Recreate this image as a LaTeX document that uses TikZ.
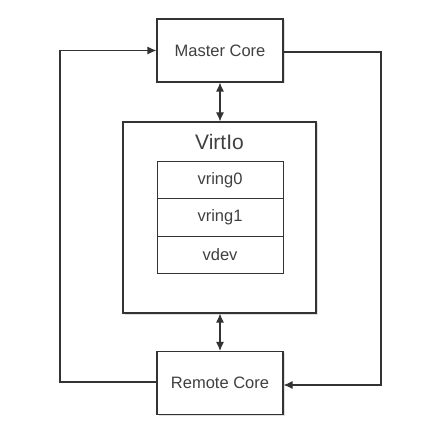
\documentclass[tikz,border=0pt]{standalone}
\usepackage{fontspec}
\setmainfont{Liberation Sans}
\usetikzlibrary{arrows.meta,shadows}
\begin{document}
\begin{tikzpicture}[x=1pt,y=-1pt,
  box/.style={draw=black!80,line width=1.1pt,fill=white,minimum width=126pt,minimum height=63pt,inner sep=0pt,
    drop shadow={shadow xshift=1.5pt,shadow yshift=-1.5pt,opacity=0.25,fill=black!50}},
  cell/.style={draw=black!80,line width=1pt,fill=white,minimum width=126pt,minimum height=37.7pt,inner sep=0pt},
  lbl/.style={text=black!75,font=\fontsize{16.5}{19}\selectfont},
  conn/.style={draw=black!80,line width=1.1pt},
  tip/.style={-{Latex[length=9pt,width=8pt]}},
  tips/.style={{Latex[length=9pt,width=8pt]}-{Latex[length=9pt,width=8pt]}}]
\useasboundingbox (0,0) rectangle (440,443);
\fill[white] (0,0) rectangle (440,443);
\node[box,lbl] (master) at (220,50.5) {Master Core};
\node[box,lbl] (remote) at (220,383) {Remote Core};
\node[draw=black!80,line width=1.1pt,fill=white,minimum width=193pt,minimum height=191pt,inner sep=0pt,
  drop shadow={shadow xshift=1.5pt,shadow yshift=-1.5pt,opacity=0.25,fill=black!50}] (virtio) at (219.5,217.5) {};
\node[text=black!75,font=\fontsize{21}{24}\selectfont] (vt) at (219.5,142) {VirtIo};
\node[cell,lbl] (v0) at (220,180) {vring0};
\node[cell,lbl] (v1) at (220,217.5) {vring1};
\node[cell,lbl] (vd) at (220,255) {vdev};
\coordinate (lt) at (60,50.5);
\coordinate (lb) at (60,382);
\coordinate (rt) at (381,52);
\coordinate (rb) at (381,385);
\draw[conn,tips] (master.south) -- (virtio.north -| master.south);
\draw[conn,tips] (virtio.south -| remote.north) -- (remote.north);
\draw[conn,tip] (remote.west |- lb) -- (lb) -- (lt) -- (master.west);
\draw[conn,tip] (master.east |- rt) -- (rt) -- (rb) -- (remote.east |- rb);
\end{tikzpicture}
\end{document}
